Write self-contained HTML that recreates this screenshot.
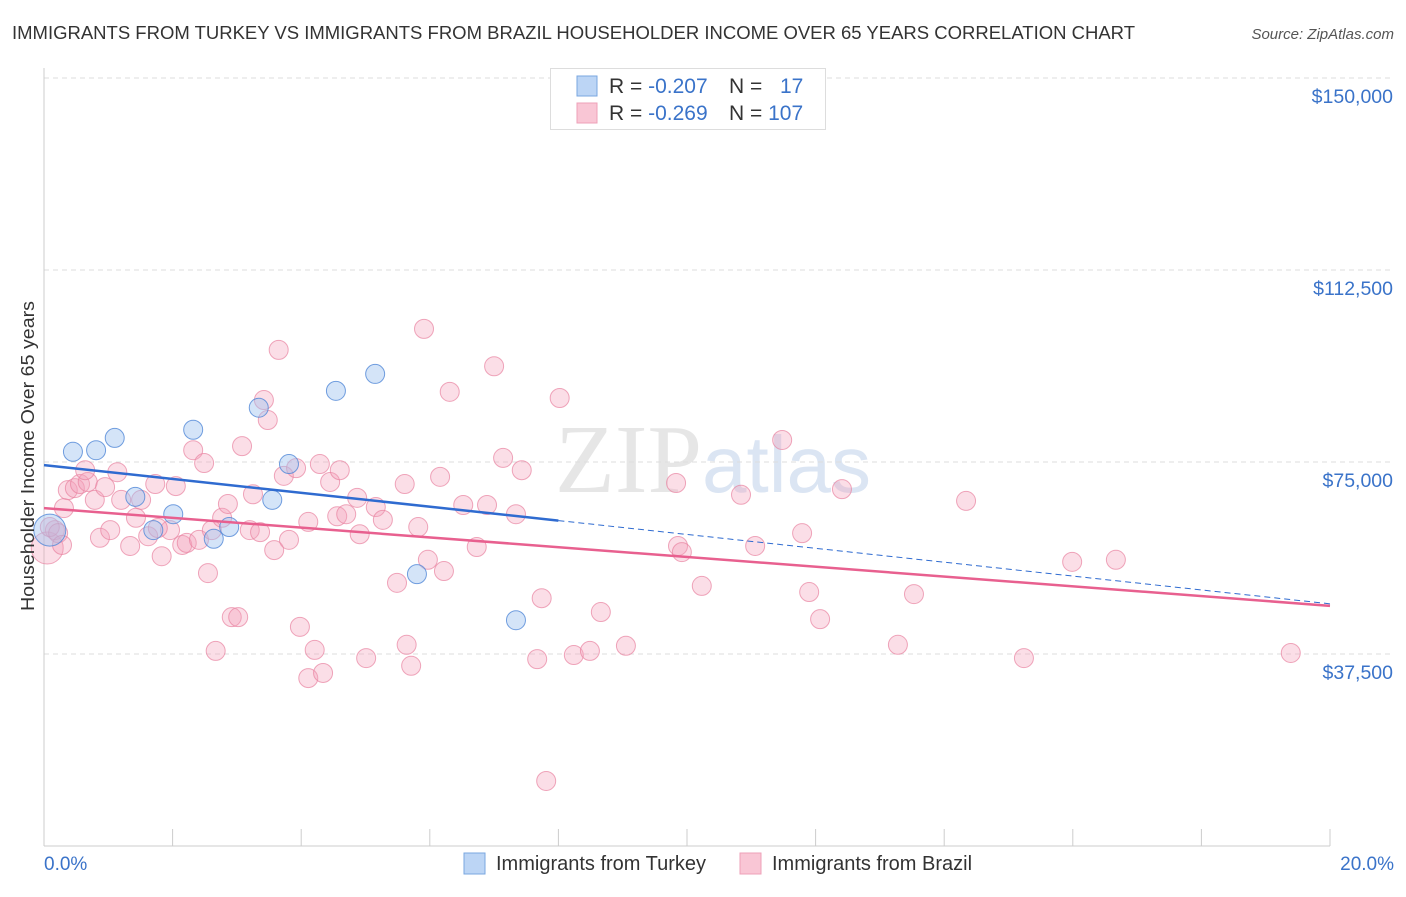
<!DOCTYPE html>
<html><head><meta charset="utf-8"><style>
body{margin:0;background:#fff;font-family:"Liberation Sans",sans-serif;}
</style></head><body>
<svg id="chart" width="1406" height="892" viewBox="0 0 1406 892" xmlns="http://www.w3.org/2000/svg">
<text x="12" y="39" font-size="18.5" fill="#333" textLength="1123" lengthAdjust="spacingAndGlyphs">IMMIGRANTS FROM TURKEY VS IMMIGRANTS FROM BRAZIL HOUSEHOLDER INCOME OVER 65 YEARS CORRELATION CHART</text>
<text x="1394" y="39" font-size="15" fill="#555" font-style="italic" text-anchor="end">Source: ZipAtlas.com</text>
<text x="555" y="492" font-size="98" fill="#e6e6e6" font-family="Liberation Serif,serif">ZIP<tspan fill="#dbe5f3" font-family="Liberation Sans,sans-serif" font-size="80">atlas</tspan></text>
<g id="grid"></g><g id="axes"></g><g id="pts"></g><g id="trends"></g>
<text transform="translate(34,456) rotate(-90)" font-size="18" fill="#333" text-anchor="middle" textLength="310" lengthAdjust="spacingAndGlyphs">Householder Income Over 65 years</text>
<g>
<rect x="550.5" y="68.5" width="275" height="61" fill="#fff" stroke="#ddd"/>
<rect x="577" y="76" width="20" height="20" fill="#bcd5f5" stroke="#7aa7e0"/>
<rect x="577" y="103" width="20" height="20" fill="#f9c6d5" stroke="#eea0b8"/>
<text x="609" y="93" font-size="21" fill="#333">R = <tspan fill="#3a73c9">-0.207</tspan></text>
<text x="729" y="93" font-size="21" fill="#333">N = <tspan fill="#3a73c9" x="780">17</tspan></text>
<text x="609" y="120" font-size="21" fill="#333">R = <tspan fill="#3a73c9">-0.269</tspan></text>
<text x="729" y="120" font-size="21" fill="#333">N = <tspan fill="#3a73c9">107</tspan></text>
</g>
<g>
<rect x="464" y="853" width="21" height="21" fill="#bcd5f5" stroke="#7aa7e0"/>
<text x="496" y="870" font-size="20" fill="#333">Immigrants from Turkey</text>
<rect x="740" y="853" width="21" height="21" fill="#f9c6d5" stroke="#eea0b8"/>
<text x="772" y="870" font-size="20" fill="#333">Immigrants from Brazil</text>
</g>
</svg>
<script>
const yTicks=[37500,75000,112500,150000];
const yTickLabels=["$37,500","$75,000","$112,500","$150,000"];
const xTickLabels=["0.0%","20.0%"];
const turkeyX=[0.09,0.45,0.81,1.10,1.42,1.70,2.01,2.32,2.64,2.88,3.34,3.55,3.81,4.54,5.15,5.80,7.34];
const turkeyY=[61700,77000,77300,79700,68200,61700,64800,81300,60000,62300,85600,67600,74600,88900,92200,53100,44100];
const brazilX=[0.05,0.17,0.37,0.31,0.48,0.56,0.68,0.79,0.87,0.95,1.03,1.14,1.20,1.34,1.43,1.51,1.62,1.73,1.83,1.96,2.05,2.15,2.22,2.32,2.41,2.49,2.55,2.61,2.67,2.77,2.86,2.92,3.02,3.08,3.20,3.25,3.36,3.42,3.48,3.58,3.65,3.73,3.81,3.92,3.98,4.11,4.11,4.21,4.29,4.34,4.45,4.56,4.60,4.70,4.87,4.91,5.01,5.16,5.27,5.49,5.61,5.64,5.71,5.82,5.91,5.97,6.16,6.22,6.31,6.52,6.73,6.89,7.00,7.14,7.34,7.43,7.67,7.74,7.81,8.02,8.24,8.49,8.66,9.05,9.83,9.86,9.92,10.23,10.84,11.06,11.48,11.79,11.90,12.07,12.41,13.28,13.53,14.34,15.24,15.99,16.67,19.39,0.09,0.22,0.28,0.64,1.77];
const brazilY=[58200,61700,69500,66000,69900,70700,71100,67600,60200,70100,61700,73000,67600,58600,64100,67600,60500,70700,56600,61700,70300,58800,59200,77300,59800,74800,53300,61700,38100,64100,66800,44700,44700,78100,61700,68700,61300,87100,83200,57800,96900,72300,59800,73800,42800,63300,32800,38300,74600,33800,71100,64400,73400,64800,68000,60900,36700,66200,63700,51400,70700,39300,35200,62300,101000,55900,72100,53700,88700,66600,58400,66600,93700,75800,64800,73400,36500,48400,12700,87500,37300,38100,45700,39100,70900,58600,57400,50800,68600,58600,79300,61100,49600,44300,69700,39300,49200,67400,36700,55500,55900,37700,62300,61100,58800,73400,62100];
const turkeyTrend=[74400,47300];
const brazilTrend=[66000,46900];
const X0=44,X1=1330,YB=846,PX=192/37500;
const sx=v=>X0+(v/20)*(X1-X0), sy=v=>YB-v*PX;
const NS="http://www.w3.org/2000/svg";
function mk(tag,attrs,parent){const e=document.createElementNS(NS,tag);for(const k in attrs)e.setAttribute(k,attrs[k]);document.getElementById(parent).appendChild(e);return e;}
yTicks.forEach((t,i)=>{
 const l=mk('line',{x1:44,x2:1394,y1:sy(t),y2:sy(t),stroke:'#ddd','stroke-dasharray':'5,4'},'grid');
 
 
 const tx=mk('text',{x:1393,y:sy(t)+25,'font-size':19.5,fill:'#3a73c9','text-anchor':'end'},'grid');tx.textContent=yTickLabels[i];
 
 
});
const ax=mk('line',{x1:44,x2:44,y1:68,y2:846,stroke:'#ccc'},'axes');


const bx=mk('line',{x1:44,x2:1330,y1:846,y2:846,stroke:'#ccc'},'axes');


for(let i=0;i<=10;i++){const t=mk('line',{x1:sx(i*2),x2:sx(i*2),y1:829,y2:846,stroke:'#ccc'},'axes');
 
 }
[[0,'start',44],[20,'end',1394]].forEach((d,i)=>{const t=mk('text',{x:d[2],y:870,'font-size':19,fill:'#3a73c9','text-anchor':d[1]},'axes');t.textContent=xTickLabels[i];
 
 });
brazilX.forEach((x,i)=>{const c=mk('circle',{cx:sx(x),cy:sy(brazilY[i]),r:i===0?16:9.5,fill:'rgba(244,160,185,0.35)',stroke:'rgba(232,130,160,0.7)','stroke-width':1},'pts');
 
 });
turkeyX.forEach((x,i)=>{const c=mk('circle',{cx:sx(x),cy:sy(turkeyY[i]),r:i===0?16:9.5,fill:'rgba(160,196,240,0.45)',stroke:'rgba(80,135,215,0.8)','stroke-width':1},'pts');
 
 });
const ty=x=>turkeyTrend[0]+(turkeyTrend[1]-turkeyTrend[0])*x/20;
const t1=mk('line',{x1:sx(0),y1:sy(ty(0)),x2:sx(8),y2:sy(ty(8)),stroke:'#2f6bd0','stroke-width':2.5},'trends');


const t2=mk('line',{x1:sx(8),y1:sy(ty(8)),x2:sx(20),y2:sy(ty(20)),stroke:'#2f6bd0','stroke-width':1,'stroke-dasharray':'6,4'},'trends');


const t3=mk('line',{x1:sx(0),y1:sy(brazilTrend[0]),x2:sx(20),y2:sy(brazilTrend[1]),stroke:'#e8608f','stroke-width':2.5},'trends');


</script>
</body></html>
